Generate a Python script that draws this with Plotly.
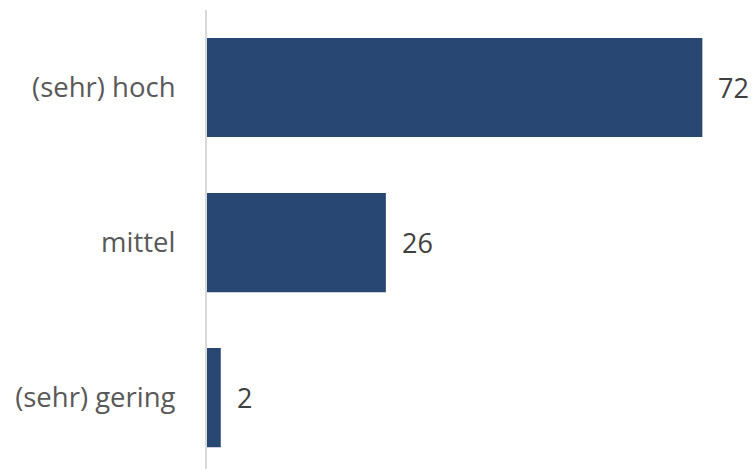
import plotly.graph_objects as go

categories = ["(sehr) hoch", "mittel", "(sehr) gering"]
values = [72, 26, 2]

bar_color = "#284772"
label_color = "#595959"
value_color = "#404040"
font_family = "'Open Sans', sans-serif"

fig = go.Figure()
fig.add_trace(go.Bar(
    x=values,
    y=categories,
    orientation="h",
    marker=dict(color=bar_color, line=dict(width=0)),
    hoverinfo="skip",
))

for c, v in zip(categories, values):
    fig.add_annotation(
        x=v, y=c, text=str(v), showarrow=False,
        xanchor="left", yanchor="middle", xshift=14,
        font=dict(size=27, color=value_color, family=font_family),
    )

fig.update_layout(
    width=756, height=469,
    margin=dict(l=207, r=0, t=10, b=0),
    paper_bgcolor="white", plot_bgcolor="white",
    bargap=0.36,
    showlegend=False,
    font=dict(family=font_family, color=label_color),
)
fig.update_xaxes(
    range=[0, 79.8], showgrid=False, zeroline=False,
    showticklabels=False, showline=False, ticks="",
)
fig.update_yaxes(
    categoryorder="array", categoryarray=categories,
    range=[2.461, -0.5], autorange=False,
    showgrid=False, zeroline=False,
    showline=True, linecolor="#d9d9d9", linewidth=2,
    ticks="", ticklabelstandoff=24,
    tickfont=dict(size=27.5, color=label_color, family=font_family),
)

fig.write_html("out.html")
